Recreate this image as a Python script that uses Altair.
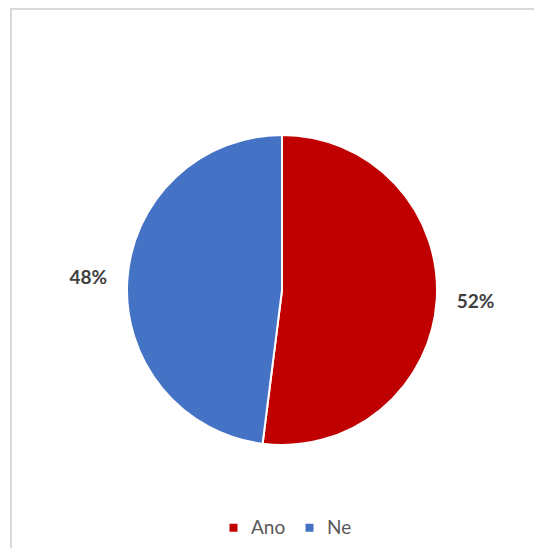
import altair as alt
import pandas as pd

categories = ["Ano", "Ne"]
values = [52, 48]
labels = ["52%", "48%"]
colors = ["#C00000", "#4472C4"]

df = pd.DataFrame({"cat": categories, "val": values, "lab": labels, "ord": [0, 1]})

CX, CY = 274, 282
R = 155

frame = alt.Chart(pd.DataFrame({"a": [0]})).mark_rect(
    fill="white", stroke="#d9d9d9", strokeWidth=2
).encode(x=alt.value(3), y=alt.value(1), x2=alt.value(560), y2=alt.value(580))

base = alt.Chart(df).encode(
    theta=alt.Theta("val:Q", stack=True),
    order=alt.Order("ord:Q"),
    x=alt.value(CX),
    y=alt.value(CY),
)

pie = base.mark_arc(radius=R, stroke="white", strokeWidth=2).encode(
    color=alt.Color(
        "cat:N",
        scale=alt.Scale(domain=categories, range=colors),
        legend=alt.Legend(
            title=None,
            orient="none",
            legendX=216,
            legendY=510,
            direction="horizontal",
            symbolType="square",
            symbolSize=64,
            symbolStrokeWidth=0,
            labelFont="Lato",
            labelFontSize=19,
            labelColor="#595959",
            columnPadding=14,
            labelOffset=8,
        ),
    )
)

text = base.mark_text(
    radius=194, font="Lato", fontSize=19, fontWeight="bold", color="#404040"
).encode(text="lab:N")

chart = alt.layer(frame, pie, text).properties(
    width=526, height=540, autosize=alt.AutoSizeParams(type="none"), padding=0
).configure_view(stroke=None)

chart.save("out.html", embed_options={"renderer": "svg", "actions": False})
